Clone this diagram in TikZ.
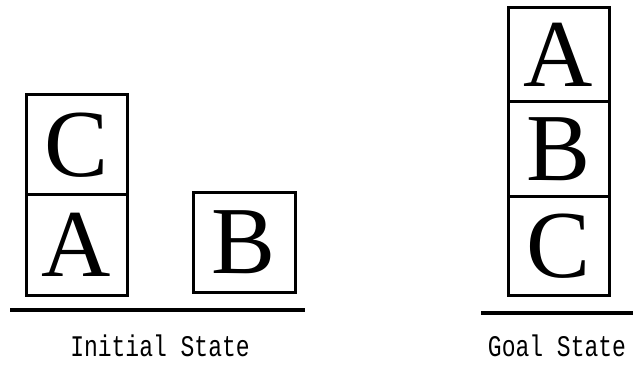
\documentclass[tikz,border=0pt]{standalone}
\usepackage{fontspec}
\setmainfont{Liberation Serif}
\newfontfamily\capfont{Liberation Mono}
\begin{document}
\begin{tikzpicture}[x=1pt,y=-1pt,
  blk/.style={draw=black, line width=3pt, inner sep=0pt, font=\fontsize{96}{96}\selectfont, text=black},
  ground/.style={line width=3.5pt, black},
  caption/.style={font=\capfont\fontsize{23}{23}\selectfont, inner sep=0pt}]
\useasboundingbox (0,0) rectangle (640,366);
% initial state
\node[blk, minimum width=101pt, minimum height=100pt] (ic) at (76.5,145) {C};
\node[blk, minimum width=101pt, minimum height=100pt] (ia) at (76.5,245) {A};
\node[blk, minimum width=102pt, minimum height=99pt] (ib) at (244,242.5) {B};
\coordinate (ig1) at (10,310);
\coordinate (ig2) at (305,310);
\draw[ground] (ig1) -- (ig2);
\node[caption] (icap) at (160,346) {\scalebox{1}[1.3]{Initial State}};
% goal state
\node[blk, minimum width=101pt, minimum height=94pt] (ga) at (558.5,55) {A};
\node[blk, minimum width=101pt, minimum height=95pt] (gb) at (558.5,149.5) {B};
\node[blk, minimum width=101pt, minimum height=98pt] (gc) at (558.5,246) {C};
\coordinate (gg1) at (481,313);
\coordinate (gg2) at (633,313);
\draw[ground] (gg1) -- (gg2);
\node[caption] (gcap) at (557,346) {\scalebox{1}[1.3]{Goal State}};
\end{tikzpicture}
\end{document}
